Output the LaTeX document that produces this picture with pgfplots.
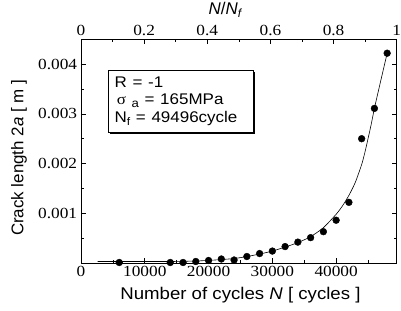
\documentclass[border=0pt]{standalone}
\usepackage{fontspec}
\setmainfont{Liberation Serif}
\newfontfamily\sans{Liberation Sans}
\usepackage{pgfplots}
\pgfplotsset{compat=1.18}
\usetikzlibrary{shadows}
\begin{document}
\begin{tikzpicture}
\pgfplotsset{
  every axis/.append style={
    scale only axis, width=315.7bp, height=223.7bp,
    tick align=inside, major tick length=5bp, minor tick length=3bp,
    axis line style={line width=0.7bp}, every tick/.style={line width=0.6bp, black},
    tick label style={font=\fontsize{15.5}{16}\selectfont, xscale=1.12},
    label style={font=\sans\fontsize{17}{18}\selectfont},
    /pgf/number format/assume math mode=true,
  }
}
\begin{axis}[
  name=main,
  xmin=0, xmax=49496, ymin=0, ymax=0.0045,
  xtick pos=bottom, ytick pos=both,
  xtick={0,10000,20000,30000,40000},
  minor xtick={5000,15000,25000,35000,45000},
  ytick={0.001,0.002,0.003,0.004},
  minor ytick={0.0005,0.0015,0.0025,0.0035},
  scaled ticks=false,
  xticklabel style={/pgf/number format/.cd, fixed, set thousands separator={}},
  yticklabel style={/pgf/number format/.cd, fixed, fixed zerofill, precision=3},
  xlabel={Number of cycles \textit{N} [ cycles ]},
  ylabel={Crack length 2\textit{a} [ m ]},
  xlabel style={xscale=1.1, at={(axis description cs:0.505,-0.143)}, anchor=center},
  ylabel style={at={(axis description cs:-0.196,0.47)}, anchor=center},
]
\addplot[black, line width=0.6bp, smooth, tension=0.4] coordinates {
(2600,0.00003) (8000,0.00003) (14000,0.00003) (18000,0.00004) (21000,0.00006)
(24000,0.00009) (26000,0.00013) (28000,0.00018) (30000,0.00024) (32000,0.00032)
(34000,0.00041) (36000,0.00053) (38000,0.00071) (40000,0.00098) (41000,0.00115)
(42000,0.00136) (43000,0.00162) (44000,0.00198) (44500,0.00222) (45000,0.00250)
(45500,0.00279) (46000,0.00311) (47000,0.00367) (48000,0.00422)
};
\addplot[only marks, mark=*, mark size=3.4bp, black] coordinates {
(6000,0.00001) (14000,0.00001) (16000,0.00001) (18000,0.00003) (20000,0.00005)
(22000,0.00008) (24000,0.00006) (26000,0.00013) (28000,0.00019) (30000,0.00024)
(32000,0.00033) (34000,0.00042) (36000,0.00051) (38000,0.00063) (40000,0.00086)
(42000,0.00122) (44000,0.00250) (46000,0.00311) (48000,0.00422)
};
\node[draw=black, line width=0.65bp, fill=white, xscale=1.1,
  drop shadow={shadow xshift=1.8bp, shadow yshift=-2bp, opacity=1, fill=black},
  anchor=north west, inner xsep=6bp, inner ysep=5bp,
  minimum width=131.8bp, minimum height=61.7bp,
  text width=119.8bp, align=left,
  font=\sans\fontsize{15.5}{17.5}\selectfont]
  at (rel axis cs:0.0846,0.863)
  {R = -1\\
   \hspace{2bp}{\fontspec{Liberation Serif}σ}\raisebox{-0.35ex}{\fontsize{12}{12}\selectfont\ a} = 165MPa\\
   N\raisebox{-0.35ex}{\fontsize{11}{11}\selectfont f} = 49496cycle};
\end{axis}
\begin{axis}[
  xmin=0, xmax=1, ymin=0, ymax=1,
  axis x line*=top, axis y line=none,
  xtick={0,0.2,0.4,0.6,0.8,1},
  minor xtick={0.1,0.3,0.5,0.7,0.9},
  xticklabel style={/pgf/number format/.cd, fixed, precision=1},
  xlabel={\textit{N}/\textit{N}\textsubscript{\textit{f}}},
  xlabel style={at={(axis description cs:0.458,1.131)}, anchor=center},
]
\end{axis}
\pgfresetboundingbox
\path ([shift={(-81bp,-48bp)}]main.south west) rectangle ([shift={(4.3bp,39.3bp)}]main.north east);
\end{tikzpicture}
\end{document}
